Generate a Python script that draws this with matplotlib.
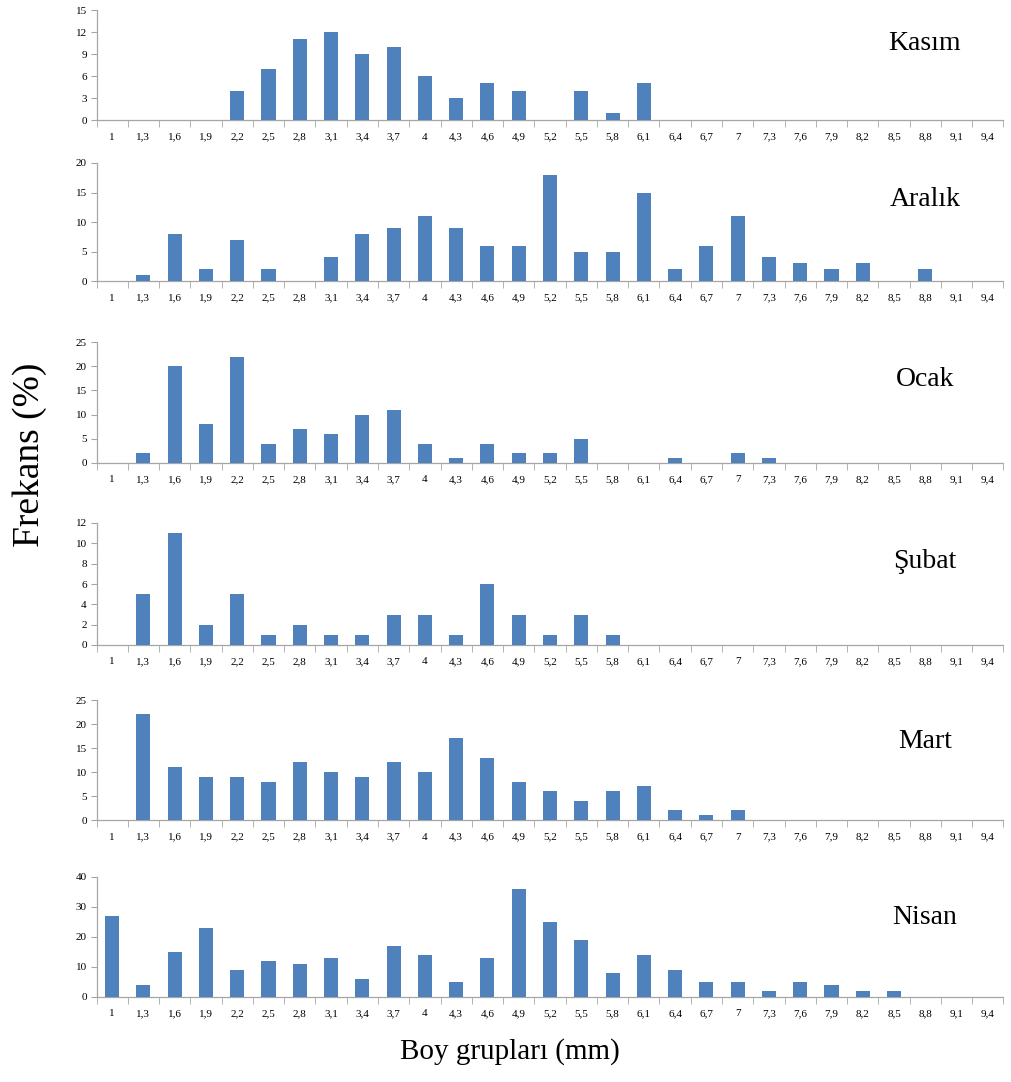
import numpy as np
import matplotlib
matplotlib.use("Agg")
import matplotlib.pyplot as plt

plt.rcParams['font.family'] = ['Liberation Serif', 'DejaVu Serif']

# boy grupları (mm)
groups = ["1", "1,3", "1,6", "1,9", "2,2", "2,5", "2,8", "3,1", "3,4", "3,7",
          "4", "4,3", "4,6", "4,9", "5,2", "5,5", "5,8", "6,1", "6,4", "6,7",
          "7", "7,3", "7,6", "7,9", "8,2", "8,5", "8,8", "9,1", "9,4"]

kasim = [0, 0, 0, 0, 4, 7, 11, 12, 9, 10, 6, 3, 5, 4, 0, 4, 1, 5, 0, 0,
         0, 0, 0, 0, 0, 0, 0, 0, 0]
aralik = [0, 1, 8, 2, 7, 2, 0, 4, 8, 9, 11, 9, 6, 6, 18, 5, 5, 15, 2, 6,
          11, 4, 3, 2, 3, 0, 2, 0, 0]
ocak = [0, 2, 20, 8, 22, 4, 7, 6, 10, 11, 4, 1, 4, 2, 2, 5, 0, 0, 1, 0,
        2, 1, 0, 0, 0, 0, 0, 0, 0]
subat = [0, 5, 11, 2, 5, 1, 2, 1, 1, 3, 3, 1, 6, 3, 1, 3, 1, 0, 0, 0,
         0, 0, 0, 0, 0, 0, 0, 0, 0]
mart = [0, 22, 11, 9, 9, 8, 12, 10, 9, 12, 10, 17, 13, 8, 6, 4, 6, 7, 2, 1,
        2, 0, 0, 0, 0, 0, 0, 0, 0]
nisan = [27, 4, 15, 23, 9, 12, 11, 13, 6, 17, 14, 5, 13, 36, 25, 19, 8, 14, 9, 5,
         5, 2, 5, 4, 2, 2, 0, 0, 0]

months = ["Kasım", "Aralık", "Ocak", "Şubat", "Mart", "Nisan"]
series = [kasim, aralik, ocak, subat, mart, nisan]
ymax = [15, 20, 25, 12, 25, 40]
ystep = [3, 5, 5, 2, 5, 10]

# panel top / bottom in pixels (from top of image)
tops = [10, 163, 342, 523, 700, 877]
bottoms = [120, 281, 463, 645, 820, 997]
title_y = [43, 200, 380, 562, 742, 917]

W, H = 1012, 1082
fig = plt.figure(figsize=(W / 100, H / 100), dpi=100)

bar_color = "#4F81BD"
grid_col = "#A6A6A6"
x = np.arange(len(groups))

for i in range(6):
    ax = fig.add_axes([96.5 / W, 1 - bottoms[i] / H, 907 / W, (bottoms[i] - tops[i]) / H])
    ax.bar(x, series[i], width=0.45, color=bar_color, zorder=3)
    ax.set_xlim(-0.5, len(groups) - 0.5)
    ax.set_ylim(0, ymax[i])
    ax.set_yticks(np.arange(0, ymax[i] + 1, ystep[i]))
    ax.set_xticks(x)
    ax.set_xticklabels(groups, fontsize=8)
    ax.set_xticks(np.arange(-0.5, len(groups), 1), minor=True)
    ax.tick_params(axis='x', which='major', length=0, pad=9)
    ax.tick_params(axis='x', which='minor', length=5, direction='out', color=grid_col)
    ax.tick_params(axis='y', length=4, color=grid_col, labelsize=8, pad=3)
    for s in ['top', 'right']:
        ax.spines[s].set_visible(False)
    for s in ['left', 'bottom']:
        ax.spines[s].set_color(grid_col)
        ax.spines[s].set_linewidth(0.9)
    fig.text(925 / W, 1 - title_y[i] / H, months[i], fontsize=20,
             ha='center', va='center')

fig.text(30 / W, 1 - 455 / H, "Frekans (%)", rotation=90, fontsize=27,
         ha='center', va='center')
fig.text(510 / W, 1 - 1052 / H, "Boy grupları (mm)", fontsize=21,
         ha='center', va='center')

fig.savefig("out.png", dpi=100)
